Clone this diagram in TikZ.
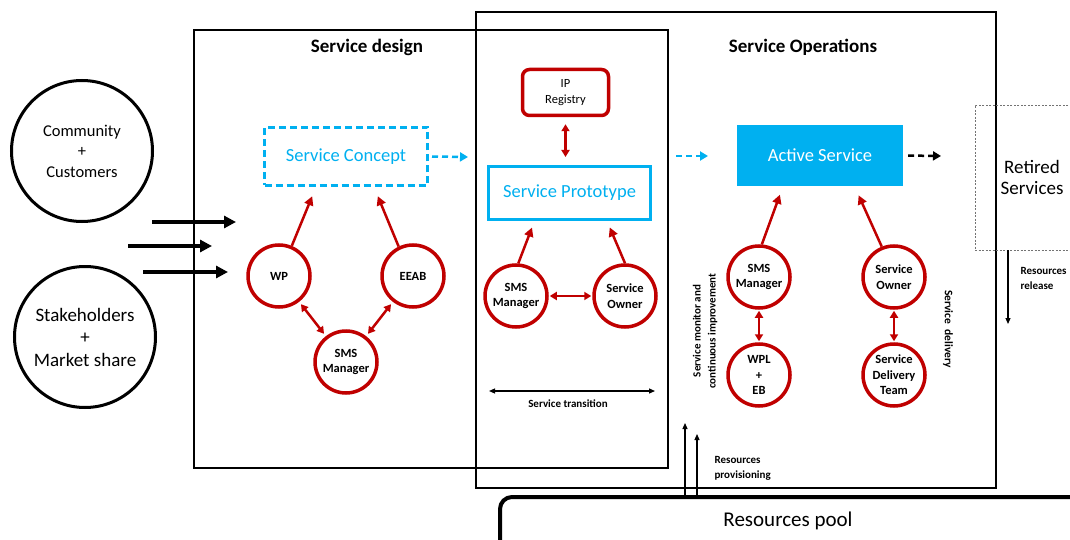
\documentclass[tikz,border=0pt]{standalone}
\usepackage{fontspec}
\setmainfont{Carlito}
\usetikzlibrary{arrows.meta,calc}
\definecolor{sblue}{HTML}{00B0F0}
\definecolor{sred}{HTML}{C00000}
\begin{document}
\begin{tikzpicture}[x=1pt,y=-1pt,
  frame/.style={draw=black, line width=1.5pt},
  title/.style={font=\bfseries\fontsize{19}{22}\selectfont},
  bcirc/.style={circle, draw=black, line width=3pt, minimum size=141pt, inner sep=0pt, align=center},
  rcirc/.style={circle, draw=sred, line width=3.5pt, minimum size=62pt, inner sep=0pt, align=center,
    font=\bfseries\fontsize{12.5}{15.5}\selectfont},
  redarr/.style={draw=sred, line width=2.5pt, -{Triangle[length=9pt,width=9pt]}},
  reddbl/.style={draw=sred, line width=2.5pt, {Triangle[length=7pt,width=8pt]}-{Triangle[length=7pt,width=8pt]}},
  bluedash/.style={draw=sblue, line width=2.5pt, dash pattern=on 6pt off 4pt, -{Triangle[length=8pt,width=9pt]}},
  blackdash/.style={draw=black, line width=2.5pt, dash pattern=on 6pt off 4pt, -{Triangle[length=8pt,width=9pt]}},
  bigarr/.style={draw=black, line width=3.5pt, -{Triangle[length=12pt,width=12pt]}},
  thinarr/.style={draw=black, line width=1.2pt, -{Triangle[length=6pt,width=5pt]}},
  lbl/.style={font=\bfseries\fontsize{11}{14.5}\selectfont, align=left},
  boxtext/.style={font=\fontsize{18.5}{21}\selectfont}
]
\clip (0,0) rectangle (1070,540);
\fill[white] (0,0) rectangle (1070,540);

% phase frames
\draw[frame] (194,30) rectangle (668,468);
\draw[frame] (476,12) rectangle (996,488);
\node[title] (tdesign) at (367,47) {Service design};
\node[title] (tops) at (803,47) {Service Operations};

% external parties
\node[bcirc, font=\fontsize{16.5}{20.5}\selectfont] (community) at (82,151) {Community\\+\\Customers};
\node[bcirc, font=\fontsize{19}{22.5}\selectfont] (stake) at (85,337) {Stakeholders\\+\\Market share};

% inputs
\coordinate (in1a) at (152,222); \coordinate (in1b) at (236,222);
\coordinate (in2a) at (128,246); \coordinate (in2b) at (212,246);
\coordinate (in3a) at (143,272); \coordinate (in3b) at (228,272);
\draw[bigarr] (in1a) -- (in1b);
\draw[bigarr] (in2a) -- (in2b);
\draw[bigarr] (in3a) -- (in3b);

% service design
\node[draw=sblue, line width=3pt, dash pattern=on 7pt off 4pt, minimum width=163pt, minimum height=58pt,
  boxtext, text=sblue] (concept) at (346,156.5) {Service Concept};
\node[rcirc] (wp) at (279,276) {WP};
\node[rcirc] (eeab) at (413,276) {EEAB};
\node[rcirc] (sms1) at (346,362) {SMS\\Manager};
\draw[redarr, shorten >=10pt] (wp.67) -- ([xshift=-30pt]concept.south);
\draw[redarr, shorten >=10pt] (eeab.116) -- ([xshift=28pt]concept.south);
\draw[reddbl, shorten >=3pt, shorten <=3pt] (wp) -- (sms1);
\draw[reddbl, shorten >=3pt, shorten <=3pt] (eeab) -- (sms1);

% service transition
\node[draw=sred, line width=3.5pt, rounded corners=7pt, minimum width=86pt, minimum height=46pt,
  align=center, font=\fontsize{12.5}{16}\selectfont] (ip) at (565.5,92.5) {IP\\Registry};
\node[draw=sblue, line width=3pt, minimum width=162pt, minimum height=53pt,
  boxtext, text=sblue] (proto) at (569.5,193) {Service Prototype};
\draw[reddbl, shorten >=8pt, shorten <=7pt] (ip.south) -- (ip.south |- proto.north);
\node[rcirc] (sms2) at (516,296) {SMS\\Manager};
\node[rcirc] (owner2) at (625,296) {Service\\Owner};
\draw[redarr, shorten >=7pt] (sms2.86) -- ([xshift=-35pt]proto.south);
\draw[redarr, shorten >=7pt] (owner2.north) -- ([xshift=37.5pt]proto.south);
\draw[reddbl, shorten >=1pt, shorten <=1pt] (sms2) -- (owner2);
\coordinate (tra) at (489,391); \coordinate (trb) at (655,391);
\draw[draw=black, line width=1.2pt, {Triangle[length=6pt,width=5pt]}-{Triangle[length=6pt,width=5pt]}] (tra) -- (trb);
\node[lbl] (ttrans) at (568,404) {Service transition};

% flow of the service
\coordinate (c1) at (468,157);
\coordinate (c2a) at (676,156); \coordinate (c2b) at (708,156);
\draw[bluedash, shorten <=3pt] (concept.east) -- (c1);
\draw[bluedash] (c2a) -- (c2b);

% service operations
\node[fill=sblue, minimum width=166pt, minimum height=61pt, boxtext, text=white] (active) at (820,155.5) {Active Service};
\node[draw=black!55, line width=0.8pt, dash pattern=on 2pt off 1.5pt, minimum width=114pt, minimum height=145pt,
  align=center, font=\fontsize{19}{21}\selectfont] (retired) at (1032,177.5) {Retired\\Services};
\coordinate (c3) at (941,156);
\draw[blackdash, shorten <=5pt] (active.east) -- (c3);

\node[rcirc] (sms3) at (759,277) {SMS\\Manager};
\node[rcirc] (wpl) at (759,375) {WPL\\+\\EB};
\node[rcirc] (owner3) at (894,277) {Service\\Owner};
\node[rcirc] (team) at (894,375) {Service\\Delivery\\Team};
\draw[redarr, shorten >=9pt] (sms3.85) -- ([xshift=-37pt]active.south);
\draw[redarr, shorten >=10pt] (owner3.112) -- ([xshift=34.5pt]active.south);
\draw[reddbl, shorten >=1pt, shorten <=1pt] (sms3) -- (wpl);
\draw[reddbl, shorten >=1pt, shorten <=1pt] (owner3) -- (team);

\node[rotate=90, font=\bfseries\fontsize{11}{15}\selectfont, align=center] (monitor) at (705,331)
  {Service monitor and\\continuous improvement};
\node[rotate=-90, font=\bfseries\fontsize{11.5}{13}\selectfont] (delivery) at (948,329) {Service\ \ delivery};

% resources
\draw[line width=4pt, rounded corners=12pt] (500,497) rectangle (1110,580);
\node[font=\fontsize{21}{24}\selectfont] (pool) at (788,521) {Resources pool};
\coordinate (p1a) at (685,497); \coordinate (p1b) at (685,423);
\coordinate (p2a) at (697,497); \coordinate (p2b) at (697,434);
\draw[thinarr] (p1a) -- (p1b);
\draw[thinarr] (p2a) -- (p2b);
\node[lbl, anchor=west] (tprov) at (711,468.5) {Resources\\provisioning};

\coordinate (rel) at (1008,324);
\draw[thinarr] ([xshift=-24pt]retired.south) -- (rel);
\node[lbl, anchor=west] (trel) at (1017,278.5) {Resources\\release};
\end{tikzpicture}
\end{document}
